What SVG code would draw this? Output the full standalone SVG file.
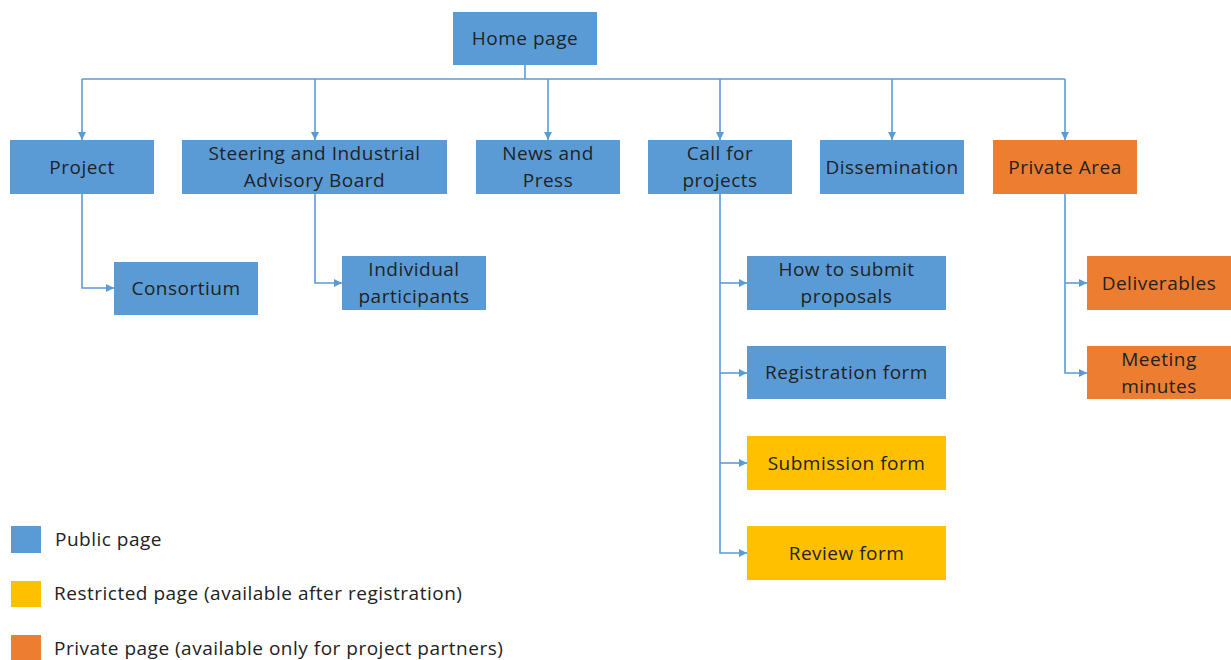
<svg xmlns="http://www.w3.org/2000/svg" width="1231" height="660" viewBox="0 0 1231 660">
<style>
.pub{fill:#5B9BD5}
.res{fill:#FFC000}
.pri{fill:#ED7D31}
text{font-family:"Open Sans","Liberation Sans",Arial,sans-serif;font-size:19px;letter-spacing:0.5px;fill:#222;text-anchor:middle}
.leg{text-anchor:start}
.c{fill:none;stroke:#5B9BD5;stroke-width:1.6}
</style>
<defs>
<marker id="ah" viewBox="0 0 8 8" refX="8" refY="4" markerWidth="8" markerHeight="8" markerUnits="userSpaceOnUse" orient="auto">
<path d="M0,0 L8,4 L0,8 z" fill="#5B9BD5"/>
</marker>
</defs>
<rect width="1231" height="660" fill="#fff"/>
<g id="connectors">
<path class="c" d="M525 65 V79 M82 79 H1065"/>
<path class="c" d="M82 79 V140" marker-end="url(#ah)"/>
<path class="c" d="M315 79 V140" marker-end="url(#ah)"/>
<path class="c" d="M548 79 V140" marker-end="url(#ah)"/>
<path class="c" d="M720 79 V140" marker-end="url(#ah)"/>
<path class="c" d="M892 79 V140" marker-end="url(#ah)"/>
<path class="c" d="M1065 79 V140" marker-end="url(#ah)"/>
<path class="c" d="M82 194 V288 H114" marker-end="url(#ah)"/>
<path class="c" d="M315 194 V283 H342" marker-end="url(#ah)"/>
<path class="c" d="M720 194 V553 H747" marker-end="url(#ah)"/>
<path class="c" d="M720 283 H747" marker-end="url(#ah)"/>
<path class="c" d="M720 373 H747" marker-end="url(#ah)"/>
<path class="c" d="M720 463 H747" marker-end="url(#ah)"/>
<path class="c" d="M1065 194 V373 H1087" marker-end="url(#ah)"/>
<path class="c" d="M1065 283 H1087" marker-end="url(#ah)"/>
</g>
<g id="home"><rect class="pub" x="453" y="12" width="144" height="53"/><text x="525" y="45">Home page</text></g>
<g id="project"><rect class="pub" x="10" y="140" width="144" height="54"/><text x="82" y="173.5">Project</text></g>
<g id="steering"><rect class="pub" x="182" y="140" width="265" height="54"/><text x="314.5" y="160">Steering and Industrial</text><text x="314.5" y="187">Advisory Board</text></g>
<g id="news"><rect class="pub" x="476" y="140" width="144" height="54"/><text x="548" y="160">News and</text><text x="548" y="187">Press</text></g>
<g id="call"><rect class="pub" x="648" y="140" width="144" height="54"/><text x="720" y="160">Call for</text><text x="720" y="187">projects</text></g>
<g id="dissemination"><rect class="pub" x="820" y="140" width="144" height="54"/><text x="892" y="173.5">Dissemination</text></g>
<g id="private"><rect class="pri" x="993" y="140" width="144" height="54"/><text x="1065" y="173.5">Private Area</text></g>
<g id="consortium"><rect class="pub" x="114" y="262" width="144" height="53"/><text x="186" y="295">Consortium</text></g>
<g id="individual"><rect class="pub" x="342" y="256" width="144" height="54"/><text x="414" y="276">Individual</text><text x="414" y="303">participants</text></g>
<g id="howto"><rect class="pub" x="747" y="256" width="199" height="54"/><text x="846.5" y="276">How to submit</text><text x="846.5" y="303">proposals</text></g>
<g id="registration"><rect class="pub" x="747" y="346" width="199" height="53"/><text x="846.5" y="379">Registration form</text></g>
<g id="submission"><rect class="res" x="747" y="436" width="199" height="54"/><text x="846.5" y="469.5">Submission form</text></g>
<g id="review"><rect class="res" x="747" y="526" width="199" height="54"/><text x="846.5" y="559.5">Review form</text></g>
<g id="deliverables"><rect class="pri" x="1087" y="256" width="144" height="54"/><text x="1159" y="289.5">Deliverables</text></g>
<g id="minutes"><rect class="pri" x="1087" y="346" width="144" height="53"/><text x="1159" y="366">Meeting</text><text x="1159" y="393">minutes</text></g>
<g id="legend">
<rect class="pub" x="11" y="526" width="30" height="27"/><text class="leg" x="55" y="546">Public page</text>
<rect class="res" x="11" y="581" width="30" height="26"/><text class="leg" x="54" y="600">Restricted page (available after registration)</text>
<rect class="pri" x="11" y="635" width="30" height="26"/><text class="leg" x="54" y="655">Private page (available only for project partners)</text>
</g>
</svg>
